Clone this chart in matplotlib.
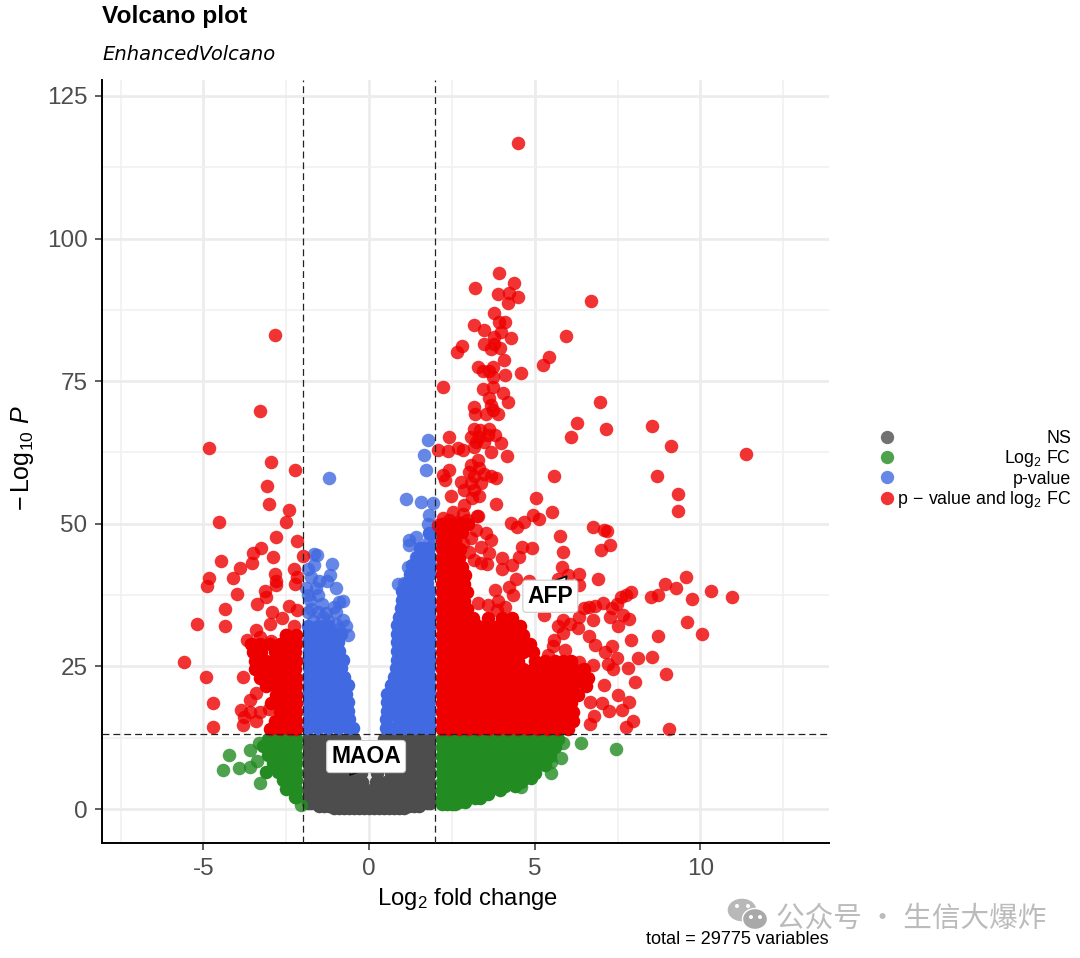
import matplotlib
matplotlib.use("Agg")
import matplotlib.pyplot as plt
from matplotlib.lines import Line2D
from matplotlib.patches import Ellipse
from matplotlib.transforms import IdentityTransform

plt.rcParams['font.family'] = ['Liberation Sans', 'DejaVu Sans']
plt.rcParams['mathtext.fontset'] = 'custom'
plt.rcParams['mathtext.rm'] = 'Liberation Sans'
plt.rcParams['mathtext.it'] = 'Liberation Sans:italic'
plt.rcParams['mathtext.bf'] = 'Liberation Sans:bold'
plt.rcParams['mathtext.default'] = 'regular'
plt.rcParams['axes.unicode_minus'] = False

# ---- data: dense clouds, as (-log10 P, [log2 FC ...]) ----
ns_rows = [
 (12.3, [-1.85,-1.55,-1.25,-0.95,-0.65,-0.45,0.45,0.65,0.95,1.25,1.55,1.85]),
 (10.8, [-1.8,-1.7,-1.4,-1.1,-0.8,-0.45,0.4,0.8,1.1,1.4,1.7,1.8]),
 (9.3,  [-1.85,-1.55,-1.25,-0.95,-0.65,-0.35,0.35,0.65,0.95,1.25,1.55,1.85]),
 (7.8,  [-1.8,-1.7,-1.4,-1.1,-0.8,-0.5,-0.3,0.3,0.5,0.8,1.1,1.4,1.7,1.8]),
 (6.3,  [-1.85,-1.55,-1.25,-0.95,-0.65,-0.25,0.25,0.65,0.95,1.25,1.55,1.85]),
 (4.8,  [-1.8,-1.7,-1.4,-1.1,-0.8,-0.5,-0.2,0.2,0.5,0.8,1.1,1.4,1.7,1.8]),
 (3.3,  [-1.85,-1.55,-1.25,-0.95,-0.65,-0.35,-0.1,0.1,0.35,0.65,0.95,1.25,1.55,1.85]),
 (1.9,  [-1.8,-1.7,-1.4,-1.1,-0.8,-0.5,-0.2,0.1,0.4,0.7,1.0,1.3,1.6,1.8]),
 (1.1,  [-1.85,-1.75,-1.6,-1.45,1.45,1.6,1.75,1.85]),
 (0.6,  [-1.5,-1.35,-1.2,-1.05,1.05,1.2,1.35,1.5]),
 (0.25, [-1.05,-0.9,-0.75,-0.6,-0.45,-0.3,-0.15,0.0,0.15,0.3,0.45,0.6,0.75,0.9,1.05]),
]
fc_left_rows = [
 (12.3, [-3.05,-2.75,-2.45,-2.2]),
 (11.0, [-3.2,-2.9,-2.6,-2.3,-2.2]),
 (9.5,  [-3.05,-2.75,-2.45,-2.2]),
 (8.0,  [-2.9,-2.6,-2.3,-2.2]),
 (6.5,  [-3.1,-2.75,-2.45,-2.2]),
 (5.0,  [-2.6,-2.3,-2.2]),
 (3.5,  [-2.5,-2.2]),
 (2.1,  [-2.25,-2.2]),
]
fc_right_rows = [
 (12.3, [2.2,2.45,2.75,3.05,3.35,3.65,3.95,4.25,4.55,4.85,5.15,5.45,5.7]),
 (10.8, [2.2,2.3,2.6,2.9,3.2,3.5,3.8,4.1,4.4,4.7,5.0,5.3,5.6]),
 (9.3,  [2.2,2.45,2.75,3.05,3.35,3.65,3.95,4.25,4.55,4.85,5.15,5.45]),
 (7.8,  [2.2,2.3,2.6,2.9,3.2,3.5,3.8,4.1,4.4,4.7,5.0,5.3]),
 (6.3,  [2.2,2.45,2.75,3.05,3.35,3.65,3.95,4.25,4.55,4.85,5.0]),
 (5.5,  [4.7,4.9]),
 (4.8,  [2.2,2.3,2.6,2.9,3.2,3.5,3.8,4.1,4.4,4.6]),
 (4.0,  [4.1,4.4]),
 (3.3,  [2.2,2.45,2.75,3.05,3.35,3.65,3.95]),
 (2.6,  [3.0,3.3,3.6]),
 (1.9,  [2.2,2.3,2.6,2.9,3.2,3.35]),
 (1.3,  [2.5,2.7,2.9]),
 (0.9,  [2.2,2.35,2.5,2.6]),
]
p_left_rows = [
 (14.2, [-1.85,-1.55,-1.25,-0.95,-0.65,-0.5]),
 (15.7, [-1.8,-1.7,-1.4,-1.1,-0.8,-0.6]),
 (17.2, [-1.85,-1.55,-1.25,-0.95,-0.65]),
 (18.7, [-1.8,-1.7,-1.4,-1.1,-0.8,-0.65]),
 (20.2, [-1.85,-1.55,-1.25,-0.95,-0.7]),
 (21.7, [-1.8,-1.7,-1.4,-1.1,-0.8,-0.65]),
 (23.2, [-1.85,-1.55,-1.25,-0.95,-0.75]),
 (24.7, [-1.8,-1.7,-1.4,-1.1,-0.85]),
 (26.2, [-1.85,-1.55,-1.25,-0.95,-0.8]),
 (27.7, [-1.8,-1.7,-1.4,-1.1,-0.9]),
 (29.2, [-1.85,-1.55,-1.25,-0.95]),
 (30.7, [-1.8,-1.7,-1.4,-1.1,-0.85]),
 (32.0, [-1.85,-1.55,-1.25]),
]
p_right_rows = [
 (14.2, [0.5,0.75,1.05,1.35,1.65,1.85]),
 (15.7, [0.5,0.9,1.2,1.5,1.8]),
 (17.2, [0.55,0.75,1.05,1.35,1.65,1.85]),
 (18.7, [0.55,0.9,1.2,1.5,1.8]),
 (20.2, [0.55,0.75,1.05,1.35,1.65,1.85]),
 (21.7, [0.65,0.9,1.2,1.5,1.8]),
 (23.2, [0.75,1.05,1.35,1.65,1.85]),
 (24.7, [0.8,1.0,1.25,1.5,1.8]),
 (26.2, [0.85,1.05,1.35,1.65,1.85]),
 (27.7, [0.85,1.2,1.5,1.8]),
 (29.2, [0.85,1.05,1.35,1.65,1.85]),
 (30.7, [0.85,1.2,1.5,1.8]),
 (32.2, [0.85,1.05,1.35,1.65,1.85]),
 (33.7, [0.9,1.2,1.5,1.8]),
 (35.2, [0.95,1.15,1.35,1.65,1.85]),
 (36.7, [1.0,1.25,1.5,1.8]),
 (38.2, [1.0,1.3,1.6,1.85]),
 (39.7, [1.15,1.45,1.75]),
 (41.2, [1.25,1.55,1.85]),
 (42.7, [1.3,1.6,1.85]),
 (44.2, [1.45,1.7,1.85]),
 (45.7, [1.55,1.8]),
 (48.3, [1.8,1.9]),
]
both_left_rows = [
 (14.0, [-3.0,-2.7,-2.4,-2.2]),
 (15.5, [-2.85,-2.55,-2.25,-2.2]),
 (17.0, [-2.7,-2.4,-2.2]),
 (18.5, [-2.95,-2.65,-2.35,-2.2]),
 (20.0, [-2.8,-2.5,-2.2]),
 (21.5, [-3.1,-2.8,-2.5,-2.2]),
 (23.0, [-3.3,-3.0,-2.7,-2.4,-2.2]),
 (24.5, [-3.45,-3.15,-2.85,-2.55,-2.25]),
 (26.0, [-3.45,-3.1,-2.8,-2.5,-2.2]),
 (27.5, [-3.5,-3.25,-2.85,-2.55,-2.25]),
 (29.0, [-3.55,-3.3,-3.0,-2.7,-2.4,-2.2]),
 (30.5, [-2.5,-2.2]),
]
both_right_rows = [
 (14.0, [2.2,2.4,2.7,3.0,3.3,3.6,3.9,4.2,4.5,4.8,5.1,5.4,5.7,6.0]),
 (15.5, [2.2,2.25,2.55,2.85,3.15,3.45,3.75,4.05,4.35,4.65,4.95,5.25,5.55,5.85,6.15]),
 (17.0, [2.2,2.4,2.7,3.0,3.3,3.6,3.9,4.2,4.5,4.8,5.1,5.4,5.7,6.0,6.15]),
 (18.5, [2.2,2.25,2.55,2.85,3.15,3.45,3.75,4.05,4.35,4.65,4.95,5.25,5.55,5.85,6.1]),
 (20.0, [2.2,2.4,2.7,3.0,3.3,3.6,3.9,4.2,4.5,4.8,5.1,5.4,5.7,6.0,6.3]),
 (21.5, [2.2,2.25,2.55,2.85,3.15,3.45,3.75,4.05,4.35,4.65,4.95,5.25,5.55,5.85,6.15,6.55]),
 (23.0, [2.2,2.4,2.7,3.0,3.3,3.6,3.9,4.2,4.5,4.8,5.1,5.4,5.7,6.0,6.3,6.6]),
 (24.5, [2.2,2.25,2.55,2.85,3.15,3.45,3.75,4.05,4.35,4.65,4.95,5.25,5.55,5.85,6.15,6.5]),
 (26.0, [2.2,2.4,2.7,3.0,3.3,3.6,3.9,4.2,4.5,5.0,5.3,5.6,5.85,6.1]),
 (27.5, [2.2,2.25,2.55,2.85,3.15,3.45,3.75,4.05,4.35,4.65,4.95]),
 (29.0, [2.2,2.4,2.7,3.0,3.3,3.6,3.9,4.2,4.5,4.85]),
 (30.5, [2.2,2.25,2.55,2.85,3.15,3.45,3.75,4.05,4.35,4.65]),
 (32.0, [2.2,2.4,2.7,3.0,3.3,3.6,3.9,4.2,4.55]),
 (33.5, [2.2,2.25,2.55,2.85,3.15,3.6,4.0,4.3]),
 (35.0, [2.2,2.4,2.7,2.95]),
 (36.5, [2.2,2.25,2.55,2.85]),
 (38.0, [2.2,2.4,2.7,2.95]),
 (39.5, [2.2,2.25,2.55,2.85]),
 (41.0, [2.2,2.4,2.7,2.9]),
 (42.5, [2.2,2.25,2.55,2.8]),
 (44.0, [2.2,2.4,2.7]),
 (45.5, [2.2,2.25,2.55,2.75]),
 (47.0, [2.2,2.4,2.6]),
 (48.5, [2.2,2.25,2.55,2.8]),
 (50.0, [2.2,2.4,2.7,3.0]),
]
# ---- data: separately readable points, as (log2 FC, -log10 P) ----
ns_points = [(-0.6,6.4)]
fc_points = [(-4.24,9.5),(-4.41,6.8),(-3.93,7.2),(-3.6,10.3),(-3.6,7.4),(-3.38,8.4),(-3.28,4.5),(-3.33,11.5),
 (-2.05,0.7),(5.85,11.5),(6.4,11.6),(7.46,10.5),(5.5,6.25),(5.8,8.9),(5.5,8.3),(4.6,3.8)]
p_points = [(-1.66,44.7),(-1.56,44.5),(-1.13,43),(-1.66,42.7),(-1.19,41),(-1.74,40.6),(-1.26,39.9),(-1.0,38.8),
 (-1.61,38.7),(-1.9,38.7),(-1.78,36.6),(-1.41,36),(-0.8,36.5),(-0.9,36.3),(-1.06,35.5),(-1.76,35),(-1.3,34.3),
 (-0.8,33.1),(-1.7,33),(-1.4,33.7),(-1.0,32.5),(-0.7,32),(-0.65,30.5),(-1.2,58.0),(-1.0,34.5),(-1.55,37.5),
 (-1.55,34.5),(-1.85,34.5),(-1.25,33),(-0.9,31.5),(-1.85,37.5),(-1.5,40),(-1.85,42),
 (1.79,64.7),(1.66,62),(1.73,59.4),(1.1,54.3),(1.56,53.9),(1.92,53.6),(1.82,51.5),(1.77,50),(1.41,47.7),(1.21,47.2),
 (1.19,46.3),(1.95,47),(1.77,46.6),(1.66,45.7),(0.86,39.4),(1.06,39.6),(1.16,42.5),(1.41,44.2),(1.77,43.6)]
both_points = [(-3.28,69.8),(-4.82,63.2),(-2.97,60.8),(-2.25,59.5),(-3.08,56.6),(-3.02,53.5),(-2.41,52.5),(-2.51,50.4),
 (-4.52,50.4),(-2.82,47.6),(-2.18,46.9),(-3.25,45.7),(-3.51,44.9),(-2.0,44.4),(-2.91,44.2),(-4.47,43.4),(-3.53,43.2),
 (-3.89,42.2),(-2.28,42.0),(-2.84,41.2),(-2.18,40.7),(-4.84,40.5),(-4.1,40.5),(-4.9,39.1),(-2.8,39.9),(-2.8,39.3),
 (-2.24,39.4),(-3.14,38.3),(-3.1,37.1),(-4.0,37.7),(-3.37,35.9),(-2.41,35.6),(-2.17,34.8),(-4.36,35.0),(-2.92,34.6),
 (-2.62,33.4),(-4.34,32.1),(-5.2,32.4),(-2.99,32.4),(-2.27,32.1),(-3.4,31.4),(-3.68,29.6),(-3.28,30.1),(-2.97,29.5),
 (-2.5,30.5),(-5.59,25.7),(-4.91,23.1),(-3.8,23.1),(-4.72,18.6),(-4.72,14.4),(-3.4,20.3),(-3.58,19.1),(-3.88,17.4),
 (-3.58,17.0),(-3.28,17.0),(-3.02,17.6),(-3.78,16.2),(-3.8,14.7),(-3.4,15.5),(-2.84,83.1),
 (4.48,116.8),(9.31,55.2),(9.31,52.2),(5.03,54.5),(3.83,53.5),(5.52,52),(4.94,51.5),(5.12,50.8),(4.67,50.4),(4.28,50.2),
 (4.46,49.5),(6.76,49.4),(7.1,48.9),(7.19,48.8),(5.75,47.9),(7.26,46.3),(6.99,45.4),(5.86,45),(4.62,46),(4.91,45.8),
 (4.0,44),(4.52,44.1),(4.3,42.7),(4.01,42.1),(5.81,42.5),(6.01,41.1),(6.35,41.2),(5.69,40.3),(6.92,40.4),(6.35,39.3),
 (4.43,40.3),(4.84,40),(4.23,39),(3.8,38.4),(4.33,37.5),(9.57,40.6),(8.94,39.4),(9.25,38.7),(8.73,37.6),(8.51,37.1),
 (10.31,38.3),(10.94,37.1),(9.75,36.9),(7.89,38.1),(7.76,37.6),(7.61,37.2),(7.48,36),(7.07,36.2),(6.65,35.4),(6.5,35.2),
 (6.82,35.6),(7.34,35.2),(9.58,32.8),(10.05,30.7),(8.72,30.3),(7.89,29.7),(6.75,33.1),(7.26,33.6),(7.83,33.3),(7.51,32),
 (7.66,34),(6.35,33.7),(5.29,34),(5.85,33.1),(6.05,32.5),(5.69,32),(6.3,31.7),(5.85,30.8),(6.63,30.4),(6.82,28.8),
 (7.33,28.6),(7.11,27.6),(7.49,26.5),(7.21,25.5),(7.36,24.5),(5.59,29.6),(5.9,27.9),(5.41,27),(5.54,28.5),(8.11,26.5),
 (7.81,24.8),(8.55,26.7),(8.96,23.6),(8.04,22.3),(7.09,21.7),(7.51,19.9),(7.84,18.7),(7.64,17.4),(7.23,17.2),(7.02,18.6),
 (6.68,18.7),(6.8,16.3),(7.96,15.4),(7.76,14.4),(6.68,14.9),(9.04,14),(6.35,25.8),(6.75,25.2),(6.4,24.4),
 (2.82,46.6),(3.02,45.1),(3.17,43.7),(3.38,43.2),(3.53,48.3),(3.68,47.2),(3.38,46),(3.61,44.9),(3.23,48.9),(3.07,47.5),
 (3.27,51.4),(3.55,43),(3.9,36.5),(3.6,35.8),(3.3,36.2),(4.1,35.4),(3.85,34.8),
 (3.92,94.0),(3.21,91.3),(4.37,92.3),(3.88,90.2),(4.21,90.4),(4.49,89.8),(4.18,88.7),(3.78,86.9),(4.11,85.4),(3.93,85.3),
 (3.17,84.9),(3.46,83.9),(3.98,83.7),(4.28,82.5),(3.78,82.7),(3.48,81.6),(3.78,81.6),(2.79,81.1),(2.65,80.1),(3.68,80.6),
 (3.96,80.8),(4.08,78.7),(5.44,79.2),(5.25,77.8),(3.28,77.5),(3.73,77.5),(3.43,76.7),(3.63,76.7),(4.11,76),(4.58,76.5),
 (3.73,75.8),(2.22,73.9),(3.43,73.6),(3.73,73.9),(4.03,73),(3.63,72),(4.2,71.4),(3.17,70.5),(3.68,70.8),(3.73,70),
 (3.2,69.3),(3.53,69.3),(3.88,69.3),(3.17,66.7),(3.61,66.7),(3.36,66.4),(3.07,65.3),(3.33,65.3),(3.58,65.6),(3.81,65.6),
 (3.23,64.4),(3.48,64.4),(2.42,65.3),(3.98,64.1),(2.09,63),(2.39,62.8),(2.67,63.3),(2.82,63),(3.17,63.4),(3.68,62.6),
 (4.17,61.8),(5.59,58.4),(3.28,61.2),(3.07,60.3),(3.02,59.1),(3.33,59.7),(3.17,58.3),(3.48,58.8),(3.68,58.3),(3.83,58),
 (2.42,59.4),(2.22,58.5),(2.3,57.6),(2.77,57.4),(3.07,57.1),(3.38,57.1),(2.87,56),(3.17,56),(3.33,54.8),(3.12,54.6),
 (2.47,54.8),(2.87,53.3),(3.28,51.4),(2.52,52.1),(2.82,51.8),(2.22,51),(2.42,50.7),(2.67,50.4),(2.97,50.7),(2.07,49.8),
 (6.98,71.4),(7.14,66.6),(6.26,67.7),(6.08,65.2),(8.53,67.1),(9.1,63.6),(11.37,62.2),(8.68,58.4),(6.71,89),(5.93,82.9)]

x_ticks = [-5, 0, 5, 10]
y_ticks = [0, 25, 50, 75, 100, 125]
x_minor = [-7.5, -2.5, 2.5, 7.5, 12.5]
y_minor = [12.5, 37.5, 62.5, 87.5, 112.5]
fc_cutoff = 2
p_cutoff = 13.15
legend_labels = ['NS', 'Log$_2$ FC', 'p-value', 'p$\\,-\\,$value and log$_2$ FC']
colors = ['#4d4d4d', '#228B22', '#4169E1', '#EE0000']

W, H = 1080, 958
fig = plt.figure(figsize=(W/100, H/100), dpi=100, facecolor='white')
ax = fig.add_axes([102/W, 1-843/H, (829-102)/W, (843-80)/H])
ax.set_xlim(-8.06, 13.88)
ax.set_ylim(-5.96, 127.8)

def flat(rows):
    xs, ys = [], []
    for y, row in rows:
        xs += row
        ys += [y]*len(row)
    return xs, ys

S = 95
dense = [(ns_rows, colors[0]), (fc_left_rows, colors[1]), (fc_right_rows, colors[1]),
         (p_left_rows, colors[2]), (p_right_rows, colors[2]),
         (both_left_rows, colors[3]), (both_right_rows, colors[3])]
for z, (rows, c) in enumerate(dense):
    xs, ys = flat(rows)
    ax.scatter(xs, ys, s=S, c=c, alpha=1, linewidths=0, zorder=3+z*0.01)
sparse = [(ns_points, colors[0], 3.0), (fc_points, colors[1], 3.0), (p_points, colors[2], 3.0), (both_points, colors[3], 3.1)]
for pts, c, z in sparse:
    ax.scatter([p[0] for p in pts], [p[1] for p in pts], s=S, c=c, alpha=0.8, linewidths=0, zorder=z)

ax.set_axisbelow(True)
ax.set_xticks(x_ticks)
ax.set_yticks(y_ticks)
ax.set_xticks(x_minor, minor=True)
ax.set_yticks(y_minor, minor=True)
ax.grid(True, which='major', color='#ececec', lw=2.0)
ax.grid(True, which='minor', color='#f0f0f0', lw=1.1)
ax.tick_params(which='minor', length=0)
ax.tick_params(which='major', length=5, width=1.1, color='#333333', labelcolor='#4d4d4d', labelsize=17.5, pad=5.5)
for s in ['top', 'right']:
    ax.spines[s].set_visible(False)
for s in ['left', 'bottom']:
    ax.spines[s].set_linewidth(1.4)

dash = (0, (5.5, 3.2))
for v in (-fc_cutoff, fc_cutoff):
    ax.axvline(v, color='#222222', lw=0.9, ls=dash, zorder=5)
ax.axhline(p_cutoff, color='#222222', lw=0.9, ls=dash, zorder=5)

box = dict(boxstyle='round,pad=0.2,rounding_size=0.15', fc='white', ec='#cccccc', lw=0.8)
arrow = dict(arrowstyle='-|>,head_length=0.5,head_width=0.3', fc='white', ec='black', lw=1.2, shrinkA=0, shrinkB=0)
ax.annotate('MAOA', xy=(-0.6, 5.8), xytext=(-0.09, 9.2), ha='center', va='center', fontsize=16.5,
            fontweight='bold', bbox=box, arrowprops=arrow, zorder=6)
ax.annotate('AFP', xy=(5.99, 41), xytext=(5.47, 37.3), ha='center', va='center', fontsize=16.5,
            fontweight='bold', bbox=box, arrowprops=arrow, zorder=6)

fig.text(468/W, 1-899/H, 'Log$_2$ fold change', ha='center', va='center', fontsize=17.2)
fig.text(23/W, 1-458/H, '$-\\,$Log$_{10}$ $\\mathit{P}$', ha='center', va='center', rotation=90, fontsize=18)
fig.text(102/W, 1-17/H, 'Volcano plot', ha='left', va='center', fontsize=17.6, fontweight='bold')
fig.text(102/W, 1-54/H, 'EnhancedVolcano', ha='left', va='center', fontsize=14, style='italic', family='DejaVu Sans')
fig.text(829/W, 1-940/H, 'total = 29775 variables', ha='right', va='center', fontsize=13.1)

handles = [Line2D([], [], ls='', marker='o', ms=9.6, mew=0, color=c, alpha=0.8, label=l)
           for c, l in zip(colors, legend_labels)]
leg = ax.legend(handles=handles, loc='center left', bbox_to_anchor=(879/W, 1-470/H), bbox_transform=fig.transFigure,
                frameon=False, fontsize=12.8, labelspacing=0.08, handlelength=0.9, handletextpad=0.3,
                borderpad=0, borderaxespad=0)
col = leg._legend_handle_box.get_children()[0]
for row in col.get_children():
    row.mode = 'expand'
col.width = 192

# watermark
pix = IdentityTransform()
for cx, cy, w, h, c in [(742, 910, 30, 24, '#b8b8b8'), (755, 919, 25, 21, '#a9a9a9')]:
    fig.add_artist(Ellipse((cx, H-cy), w, h, transform=pix, fc=c, ec='white', lw=1))
for cx, cy in [(737, 906), (748, 906), (751, 917), (760, 917)]:
    fig.add_artist(Ellipse((cx, H-cy), 4, 4, transform=pix, fc='white', ec='none'))
fig.text(776/W, 1-919/H, '公众号 · 生信大爆炸', ha='left', va='center', fontsize=20.6, color='#bbbbbb',
         family=['Noto Sans CJK SC', 'DejaVu Sans'])

fig.savefig('out.png', dpi=100)
